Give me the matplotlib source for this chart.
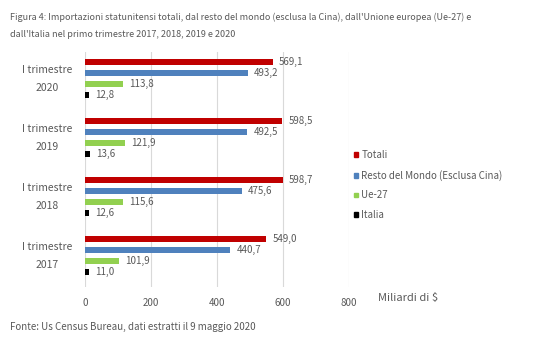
import matplotlib.pyplot as plt
import matplotlib.transforms as mtransforms
from matplotlib.patches import Patch

plt.rcParams['font.family'] = ['Noto Sans CJK JP', 'DejaVu Sans']

# data
periods = ["2017", "2018", "2019", "2020"]
series = ["Totali", "Resto del Mondo (Esclusa Cina)", "Ue-27", "Italia"]
totali = [549.0, 598.7, 598.5, 569.1]
resto = [440.7, 475.6, 492.5, 493.2]
ue27 = [101.9, 115.6, 121.9, 113.8]
italia = [11.0, 12.6, 13.6, 12.8]
colors = ["#C00000", "#4F81BD", "#92D050", "#000000"]

values = [totali, resto, ue27, italia]
text_col = "#595959"

fig = plt.figure(figsize=(5.6, 3.43), dpi=100)
ax = fig.add_axes([0.152, 0.163, 0.471, 0.685])

step = 0.186
offsets = [1.5 * step, 0.5 * step, -0.5 * step, -1.5 * step]
for vals, col, off in zip(values, colors, offsets):
    pos = [i + off for i in range(len(periods))]
    bars = ax.barh(pos, vals, height=0.105, color=col, zorder=3)
    for b, v in zip(bars, vals):
        ax.annotate(f"{v:.1f}".replace(".", ","),
                    (b.get_width(), b.get_y() + b.get_height() / 2),
                    xytext=(4.5, 0), textcoords="offset points",
                    va="center", ha="left", fontsize=7, color=text_col)

ax.set_xlim(0, 800)
ax.set_ylim(-0.53, 3.45)
ax.set_xticks([0, 200, 400, 600, 800])
ax.set_xticklabels(["0", "200", "400", "600", "800"])
ax.set_yticks([])
ax.tick_params(length=0, labelsize=7, colors=text_col)
ax.tick_params(axis="x", pad=8)

# category labels, centred left of the plot
trans = mtransforms.blended_transform_factory(ax.transAxes, ax.transData)
for i, p in enumerate(periods):
    ax.text(-0.144, i, "I trimestre\n\n" + p, transform=trans, ha="center",
            va="center", multialignment="center", linespacing=0.9,
            fontsize=7.5, color=text_col)

ax.grid(axis="x", color="#D9D9D9", linewidth=0.8, zorder=0)
for s in ax.spines.values():
    s.set_visible(False)

handles = [Patch(color=c) for c in colors]
fig.legend(handles, series, loc="upper left", bbox_to_anchor=(0.616, 0.588),
           frameon=False, fontsize=7, handlelength=0.4, handleheight=0.4,
           handletextpad=0.4, labelspacing=1.0, labelcolor=text_col)

fig.text(0.675, 0.131, "Miliardi di $", fontsize=8, color=text_col, va="center")

fig.text(0.018, 0.95, "Figura 4: Importazioni statunitensi totali, dal resto del mondo (esclusa la Cina), dall'Unione europea (Ue-27) e",
         fontsize=6.5, color=text_col, va="center")
fig.text(0.018, 0.898, "dall'Italia nel primo trimestre 2017, 2018, 2019 e 2020",
         fontsize=6.5, color=text_col, va="center")
fig.text(0.018, 0.047, "Fonte: Us Census Bureau, dati estratti il 9 maggio 2020",
         fontsize=7, color=text_col, va="center")

fig.savefig("out.png", dpi=100)
